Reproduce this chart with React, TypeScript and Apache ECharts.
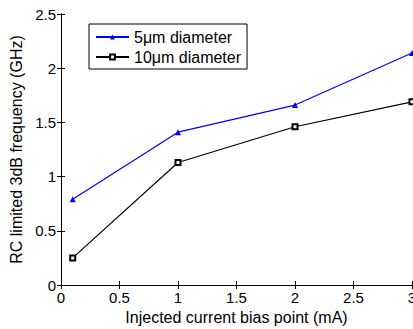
import React, { useEffect, useRef } from "react";
import * as echarts from "echarts";

const xValues = [0.1, 1, 2, 3];
const series5um = [0.79, 1.41, 1.66, 2.14];
const series10um = [0.25, 1.13, 1.46, 1.69];
const seriesNames = ["5\u03bcm diameter", "10\u03bcm diameter"];
const xTitle = "Injected current bias point (mA)";
const yTitle = "RC limited 3dB frequency (GHz)";

export default function App() {
  const ref = useRef<HTMLDivElement>(null);
  useEffect(() => {
    if (!ref.current) return;
    const chart = echarts.init(ref.current, null, { renderer: "svg" });
    const font = "'Liberation Sans', Arial, sans-serif";
    const axisCommon = {
      axisLine: { show: true, lineStyle: { color: "#000", width: 1 } },
      axisTick: { show: true, inside: true, length: 4, lineStyle: { color: "#000" } },
      splitLine: { show: false },
    };
    chart.setOption({
      animation: false,
      backgroundColor: "#fff",
      textStyle: { fontFamily: font },
      grid: {
        left: 61,
        top: 14,
        right: 1,
        bottom: 44,
        containLabel: false,
        outerBoundsMode: "none",
      },
      legend: {
        show: true,
        orient: "vertical",
        left: 89,
        top: 24,
        itemWidth: 33,
        itemHeight: 6,
        itemGap: 4,
        itemStyle: { borderWidth: 1 },
        padding: [5, 6, 4, 6],
        borderColor: "#000",
        borderWidth: 1,
        borderRadius: 0,
        backgroundColor: "#fff",
        textStyle: { fontSize: 16, color: "#000", fontFamily: font },
        data: seriesNames,
      },
      xAxis: [
        {
          type: "value",
          min: 0,
          max: 3,
          interval: 0.5,
          ...axisCommon,
          axisLabel: { color: "#000", fontSize: 15, margin: 5, fontFamily: font },
          name: xTitle,
          nameLocation: "middle",
          nameGap: 22,
          nameTextStyle: { color: "#000", fontSize: 16, fontFamily: font, verticalAlign: "top" },
        },
        {
          type: "value",
          position: "top",
          min: 0,
          max: 3,
          interval: 0.5,
          ...axisCommon,
          axisLabel: { show: false },
        },
      ],
      yAxis: [
        {
          type: "value",
          min: 0,
          max: 2.5,
          interval: 0.5,
          ...axisCommon,
          axisLabel: { color: "#000", fontSize: 15, margin: 5, fontFamily: font },
          name: yTitle,
          nameLocation: "middle",
          nameGap: 33,
          nameTextStyle: { color: "#000", fontSize: 16, fontFamily: font },
        },
        {
          type: "value",
          position: "right",
          min: 0,
          max: 2.5,
          interval: 0.5,
          ...axisCommon,
          axisLabel: { show: false },
        },
      ],
      series: [
        {
          name: seriesNames[0],
          type: "line",
          data: xValues.map((x, i) => [x, series5um[i]]),
          lineStyle: { color: "#0000ff", width: 1.2 },
          itemStyle: { color: "#0000ff" },
          symbol: "triangle",
          symbolSize: 6,
          showAllSymbol: true,
        },
        {
          name: seriesNames[1],
          type: "line",
          data: xValues.map((x, i) => [x, series10um[i]]),
          lineStyle: { color: "#000", width: 1.2 },
          itemStyle: { color: "#000", borderColor: "#000", borderWidth: 1 },
          symbol: "emptyRect",
          symbolSize: 5,
          showAllSymbol: true,
        },
      ],
    });
    return () => chart.dispose();
  }, []);
  return (
    <div
      ref={ref}
      style={{ position: "fixed", left: 0, top: 0, width: 413, height: 329 }}
    />
  );
}
